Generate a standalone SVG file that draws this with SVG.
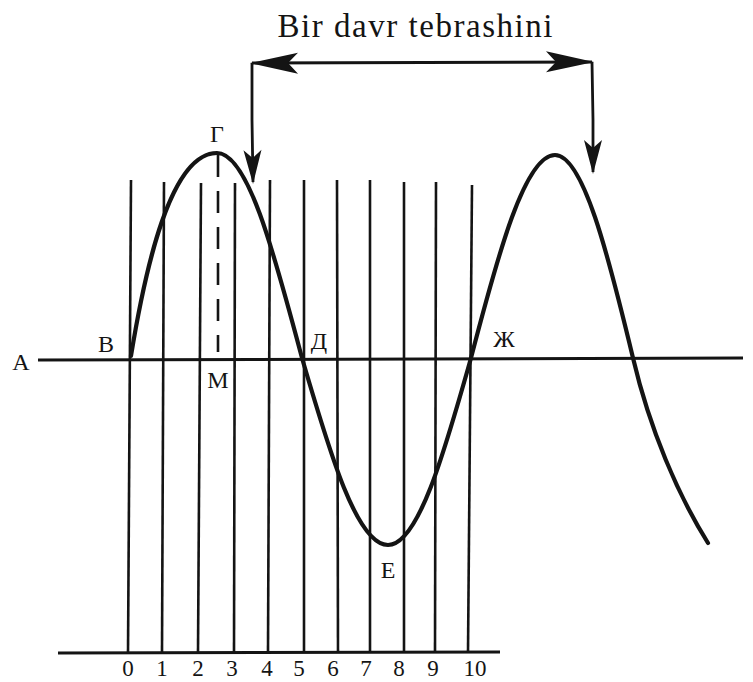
<svg xmlns="http://www.w3.org/2000/svg" width="753" height="682" viewBox="0 0 753 682">
<style>
.ln{stroke:#141414;stroke-width:2.6;fill:none}
.ax{stroke:#141414;stroke-width:3;fill:none}
.cv{stroke:#141414;stroke-width:4.2;fill:none;stroke-linecap:round}
.ar{stroke:#141414;stroke-width:2.8;fill:none}
.t{font-family:"Liberation Serif","Times New Roman",serif;fill:#141414;text-anchor:middle}
.lb{font-size:24px}
.nm{font-size:23px}
</style>
<defs>
<marker id="ahH" markerUnits="userSpaceOnUse" viewBox="-48 -12 52 24" refX="0" refY="0" markerWidth="52" markerHeight="24" orient="auto-start-reverse">
<path d="M2,0 L-46,-11 L-36,0 L-46,10 Z" fill="#141414"/>
</marker>
<marker id="ahV" markerUnits="userSpaceOnUse" viewBox="-34 -10 38 20" refX="0" refY="0" markerWidth="38" markerHeight="20" orient="auto">
<path d="M2,0 L-32,-9 L-24,0 L-32,9 Z" fill="#141414"/>
</marker>
</defs>
<rect width="753" height="682" fill="#fff"/>
<g id="grid">
<line class="ax" x1="38" y1="360" x2="743" y2="358"/>
<line class="ax" x1="58" y1="653" x2="500" y2="652"/>
<line class="ln" x1="131" y1="180" x2="128" y2="653"/>
<line class="ln" x1="164" y1="182" x2="162" y2="653"/>
<line class="ln" x1="201" y1="183" x2="198" y2="653"/>
<line class="ln" x1="235" y1="183" x2="234" y2="653"/>
<line class="ln" x1="270" y1="180" x2="268" y2="653"/>
<line class="ln" x1="304" y1="180" x2="304" y2="653"/>
<line class="ln" x1="337" y1="180" x2="338" y2="653"/>
<line class="ln" x1="370" y1="180" x2="370" y2="653"/>
<line class="ln" x1="404" y1="182" x2="404" y2="653"/>
<line class="ln" x1="436" y1="182" x2="435" y2="653"/>
<line class="ln" x1="472" y1="185" x2="468" y2="653"/>
<line class="ln" x1="218" y1="155" x2="218" y2="352" stroke-dasharray="22 14"/>
</g>
<g id="wave">
<path class="cv" d="M131,356 C145,270 170,153 217,153 C248,153 274,253 302,358 C330,454 357,545 388,545 C418,545 444,454 471,358 C498,254 525,155 555,155 C583,155 608,254 633,358 C650,430 678,495 708,543"/>
</g>
<g id="connectors">
<line class="ar" x1="252" y1="63" x2="592" y2="62" marker-start="url(#ahH)" marker-end="url(#ahH)"/>
<polyline class="ar" points="252,63 252,120 253,182" marker-end="url(#ahV)"/>
<polyline class="ar" points="592,62 593,120 593,172" marker-end="url(#ahV)"/>
</g>
<g id="title"><text class="t" x="415" y="37" font-size="33" textLength="275" lengthAdjust="spacing">Bir davr tebrashini</text></g>
<g id="labels">
<text class="t lb" x="21" y="370">А</text>
<text class="t lb" x="106" y="352">В</text>
<text class="t lb" x="217" y="142">Г</text>
<text class="t lb" x="218" y="388">М</text>
<text class="t lb" x="319" y="349">Д</text>
<text class="t lb" x="388" y="578">Е</text>
<text class="t lb" x="504" y="347">Ж</text>
</g>
<g id="numbers">
<text class="t nm" x="128" y="676">0</text>
<text class="t nm" x="162" y="676">1</text>
<text class="t nm" x="198" y="676">2</text>
<text class="t nm" x="232" y="676">3</text>
<text class="t nm" x="267" y="676">4</text>
<text class="t nm" x="299" y="676">5</text>
<text class="t nm" x="333" y="676">6</text>
<text class="t nm" x="366" y="676">7</text>
<text class="t nm" x="399" y="676">8</text>
<text class="t nm" x="433" y="676">9</text>
<text class="t nm" x="475" y="676">10</text>
</g>
</svg>
